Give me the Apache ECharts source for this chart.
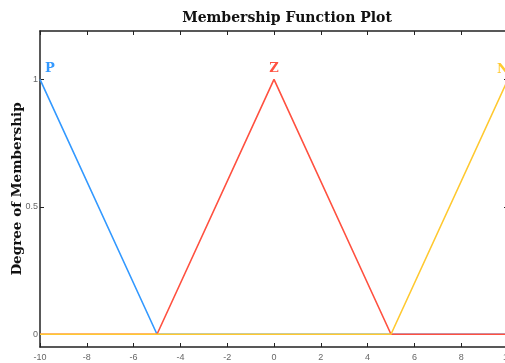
<!DOCTYPE html>
<html lang="en">
<head>
    <meta charset="UTF-8">
    <title>Membership Function Plot</title>
    <script src="https://cdn.jsdelivr.net/npm/echarts@6/dist/echarts.min.js"></script>
    <style>
        html, body { margin: 0; padding: 0; background: #fff; }
        #chart { width: 505px; height: 363px; }
    </style>
</head>
<body>
    <div id="chart"></div>
    <script>
        // membership functions (x, degree)
        var seriesNames = ['P', 'Z', 'N'];
        var ptsP = [[-10, 1], [-5, 0], [10, 0]];
        var ptsZ = [[-10, 0], [-5, 0], [0, 1], [5, 0], [10, 0]];
        var ptsN = [[-10, 0], [5, 0], [10, 1]];
        var peakIdx = [0, 2, 2];
        var colors = ['#3399ff', '#ff5140', '#ffc930'];
        var yTicks = [0, 0.5, 1];

        var serifFont = '"DejaVu Serif", serif';
        var labelOffsets = [[10, 1], [0, 1], [-5, 2]];

        function buildSeries(name, pts, idx, color, off) {
            return {
                type: 'line', name: name, data: pts, showSymbol: false, symbol: 'none',
                lineStyle: { color: color, width: 1.6 }, itemStyle: { color: color },
                markPoint: {
                    symbol: 'circle', symbolSize: 0, silent: true,
                    data: [{ coord: pts[idx] }],
                    label: {
                        show: true, formatter: name, position: 'top', offset: off,
                        color: color, fontFamily: serifFont, fontWeight: 'bold', fontSize: 13
                    }
                },
                animation: false, z: 2
            };
        }

        var myChart = echarts.init(document.getElementById('chart'));
        var option = {
            title: {
                text: 'Membership Function Plot',
                left: 282, top: 6, textAlign: 'center',
                textStyle: { fontFamily: serifFont, fontWeight: 'bold', fontSize: 14, color: '#111' }
            },
            grid: { left: 40, right: -3, top: 31, bottom: 16, containLabel: false, outerBoundsMode: 'none' },
            xAxis: [{
                type: 'value', min: -10, max: 10, interval: 2, position: 'bottom',
                axisLine: { show: true, onZero: false, lineStyle: { color: '#222', width: 1.5 } },
                axisTick: { show: true, inside: true, length: 4, lineStyle: { color: '#222' } },
                axisLabel: { color: '#666', fontSize: 9, fontFamily: 'Liberation Sans, sans-serif', margin: 6 },
                splitLine: { show: false }
            }, {
                type: 'value', min: -10, max: 10, interval: 2, position: 'top',
                axisLine: { show: true, onZero: false, lineStyle: { color: '#222', width: 1.5 } },
                axisTick: { show: true, inside: true, length: 4, lineStyle: { color: '#222' } },
                axisLabel: { show: false },
                splitLine: { show: false }
            }],
            yAxis: [{
                type: 'value', min: -0.05, max: 1.19, position: 'left',
                name: 'Degree of Membership', nameLocation: 'middle', nameGap: 16, nameRotate: 90,
                nameMoveOverlap: false,
                nameTextStyle: { fontFamily: serifFont, fontWeight: 'bold', fontSize: 13.5, color: '#111' },
                axisLine: { show: true, onZero: false, lineStyle: { color: '#222', width: 1.5 } },
                axisTick: { show: true, inside: true, length: 4, customValues: yTicks, lineStyle: { color: '#222' } },
                axisLabel: { color: '#666', fontSize: 9, fontFamily: 'Liberation Sans, sans-serif', margin: 2, customValues: yTicks },
                splitLine: { show: false }
            }, {
                type: 'value', min: -0.05, max: 1.19, position: 'right',
                axisLine: { show: true, onZero: false, lineStyle: { color: '#222', width: 1.5 } },
                axisTick: { show: true, inside: true, length: 4, customValues: yTicks, lineStyle: { color: '#222' } },
                axisLabel: { show: false },
                splitLine: { show: false }
            }],
            series: [
                buildSeries(seriesNames[0], ptsP, peakIdx[0], colors[0], labelOffsets[0]),
                buildSeries(seriesNames[1], ptsZ, peakIdx[1], colors[1], labelOffsets[1]),
                buildSeries(seriesNames[2], ptsN, peakIdx[2], colors[2], labelOffsets[2])
            ]
        };
        myChart.setOption(option);
    </script>
</body>
</html>
